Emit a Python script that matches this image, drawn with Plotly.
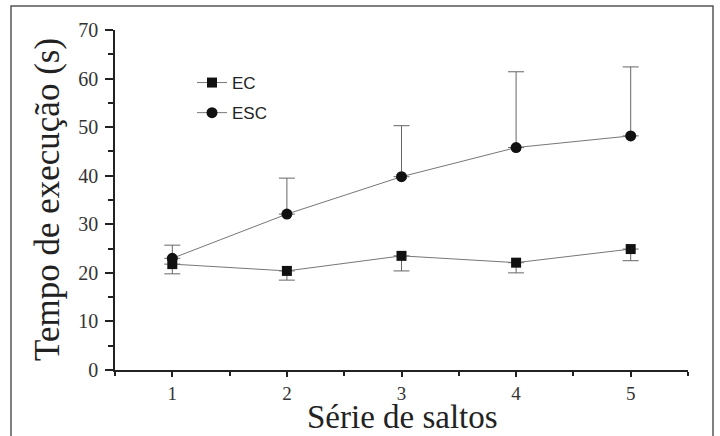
import plotly.graph_objects as go

series_x = [1, 2, 3, 4, 5]
ec_mean = [21.8, 20.4, 23.5, 22.1, 24.9]
ec_err_minus = [2.0, 1.9, 3.1, 2.1, 2.4]
esc_mean = [23.0, 32.1, 39.8, 45.8, 48.2]
esc_err_plus = [2.7, 7.4, 10.5, 15.6, 14.2]
x_title = "Série de saltos"
y_title = "Tempo de execução (s)"

fig = go.Figure()
fig.add_trace(go.Scatter(
    x=series_x, y=ec_mean, name="EC", mode="lines+markers", legendgroup="ec",
    line=dict(color="#777777", width=1),
    marker=dict(symbol="square", size=10, color="#111111"),
    error_y=dict(type="data", symmetric=False, array=[0]*5, arrayminus=ec_err_minus,
                 color="#666666", thickness=1, width=8),
))
fig.add_trace(go.Scatter(
    x=series_x, y=esc_mean, name="ESC", mode="lines+markers", legendgroup="esc",
    line=dict(color="#777777", width=1),
    marker=dict(symbol="circle", size=11, color="#111111"),
    error_y=dict(type="data", symmetric=False, array=esc_err_plus, arrayminus=[0]*5,
                 color="#666666", thickness=1, width=8),
))

W, H = 720, 436
PL, PR, PT, PB = 115, 688, 30, 370
pw, ph = PR - PL, PB - PT
L, T = PL, PT
R = W - L - pw
B = H - T - ph

def pxx(px):
    return (px - PL) / pw

def pxy(py):
    return (PB - py) / ph

fig.add_shape(type="rect", xref="paper", yref="paper",
              x0=pxx(11), x1=pxx(713), y0=pxy(460), y1=pxy(6),
              line=dict(color="#555555", width=1.5), layer="below")

fig.add_annotation(text=x_title, xref="paper", yref="paper", x=pxx(402), y=pxy(417),
                   xanchor="center", yanchor="middle", showarrow=False, borderpad=0,
                   font=dict(family="Liberation Serif", size=33, color="#222222"))
fig.add_annotation(text=y_title, xref="paper", yref="paper", x=pxx(47), y=pxy(200),
                   xanchor="center", yanchor="middle", showarrow=False, textangle=-90,
                   font=dict(family="Liberation Serif", size=35, color="#222222"))

fig.update_layout(
    width=W, height=H,
    margin=dict(l=L, r=R, t=T, b=B, autoexpand=False),
    paper_bgcolor="white", plot_bgcolor="white",
    showlegend=True,
    legend=dict(x=pxx(192), y=pxy(65), xanchor="left", yanchor="top",
                font=dict(family="Liberation Sans", size=17, color="#222222"),
                bgcolor="rgba(0,0,0,0)", tracegroupgap=5),
    xaxis=dict(
        range=[0.5, 5.5], tickvals=series_x, ticktext=[str(v) for v in series_x],
        automargin=False,
        showgrid=False, zeroline=False, showline=True, linecolor="#222222", linewidth=1.5,
        ticks="outside", ticklen=5, tickwidth=1.5, tickcolor="#222222",
        minor=dict(dtick=0.5, tick0=0.5, ticks="outside", ticklen=4, tickwidth=1.5, tickcolor="#222222"),
        tickfont=dict(family="Liberation Serif", size=19, color="#333333"),
    ),
    yaxis=dict(
        range=[0, 70], dtick=10, automargin=False,
        showgrid=False, zeroline=False, showline=True, linecolor="#222222", linewidth=1.5,
        ticks="outside", ticklen=8, tickwidth=1.5, tickcolor="#222222",
        minor=dict(dtick=5, ticks="outside", ticklen=5, tickwidth=1.5, tickcolor="#222222"),
        tickfont=dict(family="Liberation Serif", size=20, color="#333333"),
        ticklabelstandoff=3,
    ),
)

fig.write_html("out.html", config={"displayModeBar": False},
               post_script="document.body.style.margin='0px';document.body.style.overflow='hidden';")
